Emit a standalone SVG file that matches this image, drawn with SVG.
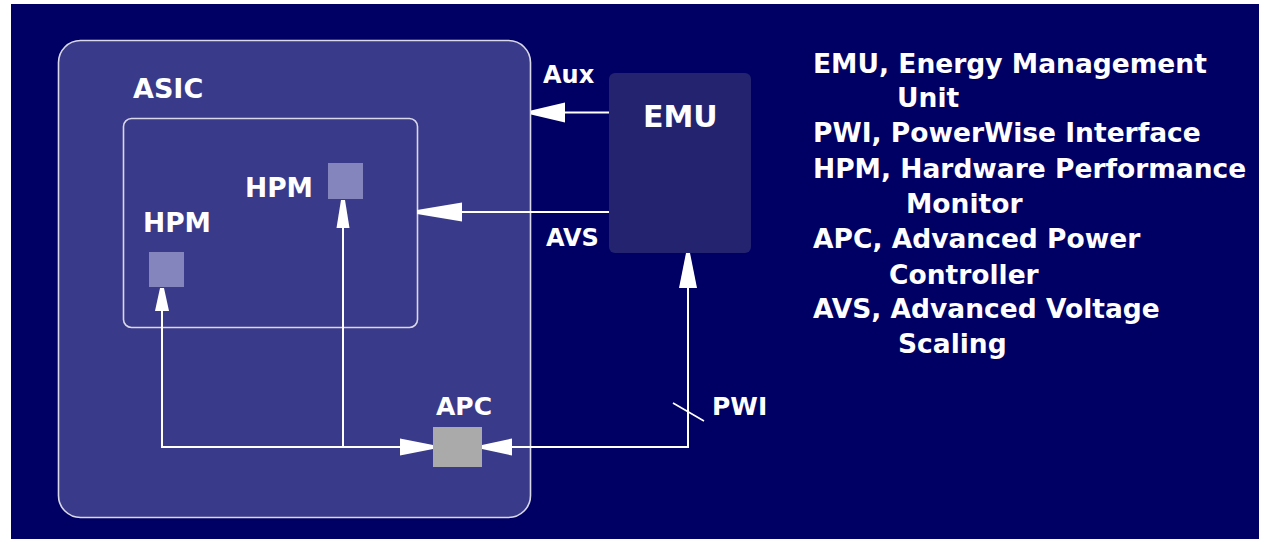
<svg xmlns="http://www.w3.org/2000/svg" width="1261" height="542" viewBox="0 0 1261 542">
<style>
text{font-family:"DejaVu Sans","Liberation Sans",sans-serif;font-weight:bold;fill:#ffffff}
.lbl{font-size:25px}
.leg{font-size:26.5px}
.box{stroke:#d8d8e8;stroke-width:1.6}
.ln{stroke:#ffffff;stroke-width:2;fill:none}
.ah{fill:#ffffff}
</style>
<rect x="0" y="0" width="1261" height="542" fill="#ffffff"/>
<rect x="11" y="4" width="1248" height="535" fill="#000064"/>
<g id="asic">
<rect class="box" x="58.5" y="40.5" width="472" height="477" rx="22" fill="#3a3a8a"/>
<text x="133" y="98" style="font-size:27px">ASIC</text>
</g>
<g id="core">
<rect class="box" x="123.5" y="118.5" width="294" height="209" rx="8" fill="none"/>
</g>
<g id="hpm1">
<rect x="328" y="163" width="35" height="36" fill="#8585bd"/>
<text x="245" y="197" style="font-size:26.5px">HPM</text>
</g>
<g id="hpm2">
<rect x="149" y="252" width="35" height="35" fill="#8585bd"/>
<text x="143" y="232" style="font-size:26.5px">HPM</text>
</g>
<g id="apc">
<rect x="433" y="427" width="49" height="40" fill="#aaaaaa"/>
<text class="lbl" x="436" y="415">APC</text>
</g>
<g id="emu">
<rect x="609" y="73" width="142" height="180" rx="6" fill="#232370"/>
<text x="643" y="127" style="font-size:30px">EMU</text>
</g>
<g id="connectors">
<path class="ln" d="M609,112.5 H560"/>
<polygon class="ah" points="531,110.5 531,114.5 565,122.5 565,102.5"/>
<path class="ln" d="M609,212 H455"/>
<polygon class="ah" points="417,210 417,214 462,221.5 462,202.5"/>
<path class="ln" d="M343,447 V225"/>
<polygon class="ah" points="341,200 345,200 349.5,228 336.5,228"/>
<path class="ln" d="M162,447 V308"/>
<polygon class="ah" points="160,288 164,288 169,311 155,311"/>
<path class="ln" d="M161,447 H405"/>
<polygon class="ah" points="433,445 433,449 400,455.5 400,438.5"/>
<path class="ln" d="M688,285 V447 H508"/>
<polygon class="ah" points="482,445 482,449 512,455.5 512,438.5"/>
<polygon class="ah" points="686,253 690,253 697,288 679,288"/>
<path d="M673,403 L704,421" stroke="#ffffff" stroke-width="1.6"/>
<text x="543" y="83" style="font-size:24px">Aux</text>
<text x="546" y="246" style="font-size:24px">AVS</text>
<text class="lbl" x="712" y="415">PWI</text>
</g>
<g id="legend">
<text class="leg" x="813" y="73">EMU, Energy Management</text>
<text class="leg" x="897" y="107">Unit</text>
<text class="leg" x="813" y="142">PWI, PowerWise Interface</text>
<text class="leg" x="813" y="178">HPM, Hardware Performance</text>
<text class="leg" x="906" y="213">Monitor</text>
<text class="leg" x="813" y="248">APC, Advanced Power</text>
<text class="leg" x="889" y="284">Controller</text>
<text class="leg" x="813" y="318">AVS, Advanced Voltage</text>
<text class="leg" x="898" y="353">Scaling</text>
</g>
</svg>
